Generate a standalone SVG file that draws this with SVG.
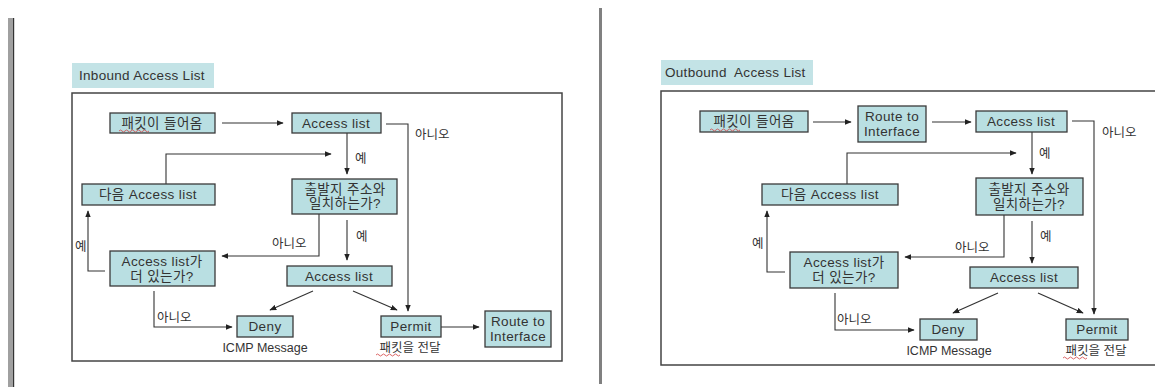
<svg xmlns="http://www.w3.org/2000/svg" width="1155" height="387" viewBox="0 0 1155 387">
<defs>
<style>
.node{fill:#b9dfe2;stroke:#3a3a3a;stroke-width:1.3}
.title{fill:#c3e3e6}
.frame{fill:none;stroke:#444;stroke-width:1.5}
.t{font-family:"Liberation Sans","Noto Sans CJK KR",sans-serif;font-size:13.5px;fill:#333;text-anchor:middle;letter-spacing:0.4px}
.l{font-family:"Liberation Sans","Noto Sans CJK KR",sans-serif;font-size:12.5px;fill:#333}
.tt{font-family:"Liberation Sans","Noto Sans CJK KR",sans-serif;font-size:13.5px;fill:#333;letter-spacing:0.3px}
.c{fill:none;stroke:#333;stroke-width:1.1}
.sq{fill:none;stroke:#d04040;stroke-width:0.8}
</style>
<marker id="ah" viewBox="0 0 10 10" refX="9" refY="5" markerWidth="7" markerHeight="7" markerUnits="userSpaceOnUse" orient="auto">
<path d="M0,1 L10,5 L0,9 z" fill="#222"/>
</marker>
</defs>
<rect width="1155" height="387" fill="#fff"/>
<!-- page bars -->
<rect x="8" y="18" width="5" height="369" fill="#a0a0a0"/>
<rect x="13" y="18" width="1.2" height="369" fill="#333"/>
<rect x="599" y="8" width="3" height="376" fill="#808080"/>

<!-- LEFT PANEL -->
<g id="inbound-title">
<rect class="title" x="72" y="63" width="142" height="25"/>
<text class="tt" x="79" y="80">Inbound Access List</text>
</g>
<rect class="frame" x="72" y="93" width="490" height="268"/>

<g id="connectors-left">
<line class="c" x1="222" y1="123" x2="283" y2="123" marker-end="url(#ah)"/>
<polyline class="c" points="386,124 408,124 408,311" marker-end="url(#ah)"/>
<line class="c" x1="347" y1="133" x2="347" y2="174" marker-end="url(#ah)"/>
<polyline class="c" points="166,184 166,154 331,154" marker-end="url(#ah)"/>
<polyline class="c" points="319,214 319,256 222,256" marker-end="url(#ah)"/>
<line class="c" x1="347" y1="220" x2="347" y2="260" marker-end="url(#ah)"/>
<polyline class="c" points="105,271 88,271 88,211" marker-end="url(#ah)"/>
<polyline class="c" points="154,291 154,327 232,327" marker-end="url(#ah)"/>
<line class="c" x1="313" y1="291" x2="270" y2="310" marker-end="url(#ah)"/>
<line class="c" x1="353" y1="291" x2="397" y2="310" marker-end="url(#ah)"/>
<line class="c" x1="441" y1="327" x2="479" y2="327" marker-end="url(#ah)"/>
</g>
<g id="labels-left">
<text class="l" x="415" y="139">아니오</text>
<text class="l" x="355" y="163">예</text>
<text class="l" x="272" y="248">아니오</text>
<text class="l" x="356" y="241">예</text>
<text class="l" x="75" y="251">예</text>
<text class="l" x="157" y="322">아니오</text>
</g>

<g id="L-packet-in">
<rect class="node" x="110" y="113" width="105" height="20"/>
<text class="t" x="162" y="128">패킷이 들어옴</text>
<path class="sq" d="M119,131 q1.5,-2 3,0 t3,0 t3,0 t3,0 t3,0 t3,0 t3,0 t3,0 t3,0 t3,0"/>
</g>
<g id="L-access1">
<rect class="node" x="292" y="113" width="89" height="20"/>
<text class="t" x="336" y="128">Access list</text>
</g>
<g id="L-source">
<rect class="node" x="292" y="179" width="105" height="35"/>
<text class="t" x="345" y="194">출발지 주소와</text>
<text class="t" x="345" y="208">일치하는가?</text>
</g>
<g id="L-next">
<rect class="node" x="82" y="184" width="133" height="21"/>
<text class="t" x="148" y="199">다음 Access list</text>
</g>
<g id="L-more">
<rect class="node" x="110" y="251" width="105" height="35"/>
<text class="t" x="162" y="266">Access list가</text>
<text class="t" x="162" y="281">더 있는가?</text>
</g>
<g id="L-access2">
<rect class="node" x="287" y="266" width="105" height="20"/>
<text class="t" x="339" y="281">Access list</text>
</g>
<g id="L-deny">
<rect class="node" x="237" y="316" width="56" height="21"/>
<text class="t" x="265" y="331">Deny</text>
<text class="l" x="265" y="352" text-anchor="middle">ICMP Message</text>
</g>
<g id="L-permit">
<rect class="node" x="381" y="316" width="60" height="21"/>
<text class="t" x="411" y="331">Permit</text>
<text class="l" x="410" y="352" text-anchor="middle">패킷을 전달</text>
<path class="sq" d="M376,355 q1.5,-2 3,0 t3,0 t3,0 t3,0 t3,0 t3,0 t3,0 t3,0"/>
</g>
<g id="L-route">
<rect class="node" x="485" y="311" width="66" height="36"/>
<text class="t" x="518" y="326">Route to</text>
<text class="t" x="518" y="341">Interface</text>
</g>

<!-- RIGHT PANEL -->
<g id="outbound-title">
<rect class="title" x="661" y="60" width="152" height="25"/>
<text class="tt" x="665" y="77" xml:space="preserve">Outbound  Access List</text>
</g>
<path class="frame" d="M1160,91 L661,91 L661,365 L1160,365"/>

<g id="connectors-right">
<line class="c" x1="813" y1="122" x2="851" y2="122" marker-end="url(#ah)"/>
<line class="c" x1="932" y1="122" x2="971" y2="122" marker-end="url(#ah)"/>
<polyline class="c" points="1072,121 1094,121 1094,314" marker-end="url(#ah)"/>
<line class="c" x1="1032" y1="132" x2="1032" y2="174" marker-end="url(#ah)"/>
<polyline class="c" points="847,184 847,153 1016,153" marker-end="url(#ah)"/>
<polyline class="c" points="1004,215 1004,257 905,257" marker-end="url(#ah)"/>
<line class="c" x1="1032" y1="221" x2="1032" y2="263" marker-end="url(#ah)"/>
<polyline class="c" points="785,272 767,272 767,211" marker-end="url(#ah)"/>
<polyline class="c" points="835,293 835,330 914,330" marker-end="url(#ah)"/>
<line class="c" x1="998" y1="293" x2="953" y2="313" marker-end="url(#ah)"/>
<line class="c" x1="1038" y1="293" x2="1083" y2="313" marker-end="url(#ah)"/>
</g>
<g id="labels-right">
<text class="l" x="1102" y="137">아니오</text>
<text class="l" x="1039" y="158">예</text>
<text class="l" x="955" y="252">아니오</text>
<text class="l" x="1040" y="241">예</text>
<text class="l" x="752" y="248">예</text>
<text class="l" x="837" y="324">아니오</text>
</g>

<g id="R-packet-in">
<rect class="node" x="700" y="111" width="108" height="21"/>
<text class="t" x="754" y="126">패킷이 들어옴</text>
<path class="sq" d="M710,130 q1.5,-2 3,0 t3,0 t3,0 t3,0 t3,0 t3,0 t3,0 t3,0 t3,0 t3,0"/>
</g>
<g id="R-route">
<rect class="node" x="858" y="106" width="68" height="36"/>
<text class="t" x="892" y="121">Route to</text>
<text class="t" x="892" y="136">Interface</text>
</g>
<g id="R-access1">
<rect class="node" x="976" y="111" width="91" height="21"/>
<text class="t" x="1021" y="126">Access list</text>
</g>
<g id="R-source">
<rect class="node" x="976" y="178" width="107" height="37"/>
<text class="t" x="1029" y="194">출발지 주소와</text>
<text class="t" x="1029" y="209">일치하는가?</text>
</g>
<g id="R-next">
<rect class="node" x="762" y="184" width="136" height="21"/>
<text class="t" x="830" y="199">다음 Access list</text>
</g>
<g id="R-more">
<rect class="node" x="790" y="252" width="108" height="36"/>
<text class="t" x="844" y="267">Access list가</text>
<text class="t" x="844" y="282">더 있는가?</text>
</g>
<g id="R-access2">
<rect class="node" x="970" y="267" width="108" height="21"/>
<text class="t" x="1024" y="282">Access list</text>
</g>
<g id="R-deny">
<rect class="node" x="920" y="319" width="57" height="21"/>
<text class="t" x="948" y="334">Deny</text>
<text class="l" x="949" y="355" text-anchor="middle">ICMP Message</text>
</g>
<g id="R-permit">
<rect class="node" x="1066" y="319" width="62" height="21"/>
<text class="t" x="1097" y="334">Permit</text>
<text class="l" x="1096" y="355" text-anchor="middle">패킷을 전달</text>
<path class="sq" d="M1063,358 q1.5,-2 3,0 t3,0 t3,0 t3,0 t3,0 t3,0 t3,0 t3,0"/>
</g>
</svg>
